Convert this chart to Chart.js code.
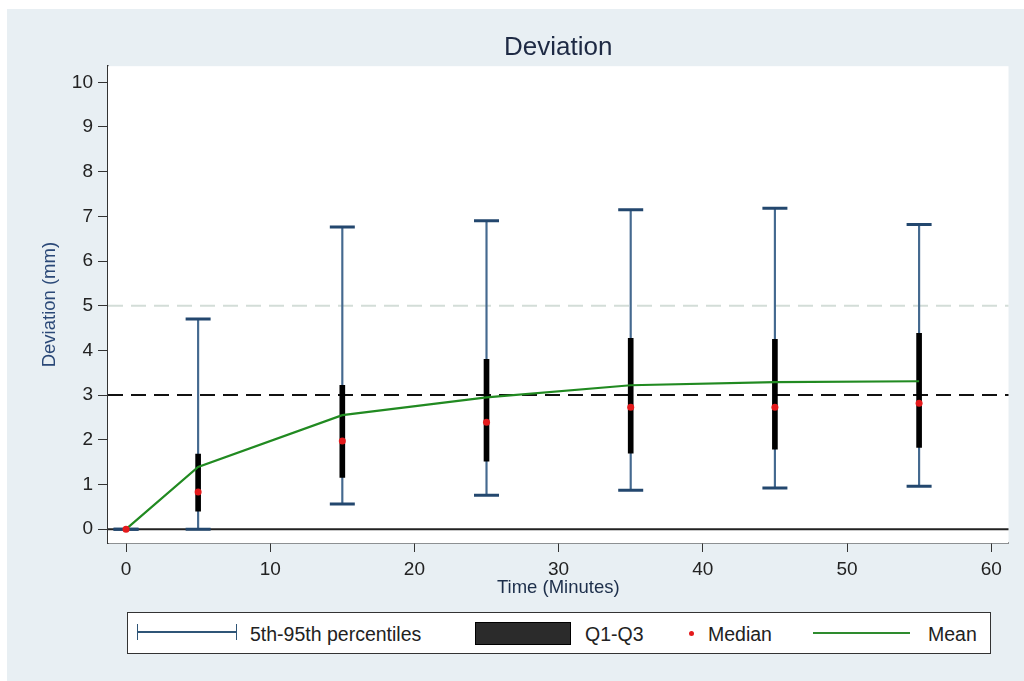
<!DOCTYPE html>
<html>
<head>
<meta charset="utf-8">
<script src="https://cdn.jsdelivr.net/npm/chart.js@4/dist/chart.umd.min.js"></script>
<style>
  body { margin:0; background:#fff; font-family:"Liberation Sans", Arial, sans-serif; }
  #bg { position:absolute; left:7px; top:9px; right:0; bottom:0; background:#e8eff3; }
  #devChart { position:absolute; left:0; top:0; }
  #legend { position:absolute; left:127px; top:612px; width:862px; height:40px; background:#fff;
            border:1.5px solid #333; color:#222; font-size:19.5px; }
  #legend span, #legend i { position:absolute; }
  .txt { top:10px; line-height:22px; }
  .whisk { left:9px; top:11px; width:98px; height:16px; border-left:1.5px solid #2f5577; border-right:1.5px solid #2f5577; }
  .whisk::after { content:""; position:absolute; left:0; right:0; top:7px; height:1.5px; background:#2f5577; }
  .box { left:347px; top:9px; width:94px; height:21px; background:#2b2b2b; border:1px solid #000; }
  .dot { left:561px; top:18px; width:5px; height:5px; border-radius:50%; background:#e41a1c; }
  .mline { left:685px; top:19px; width:97px; height:2px; background:#2e8b2e; }
</style>
</head>
<body>
<div id="bg"></div>
<canvas id="devChart" width="1024" height="600"></canvas>
<div id="legend">
  <i class="whisk"></i><span class="txt" style="left:122px">5th-95th percentiles</span>
  <i class="box"></i><span class="txt" style="left:457px">Q1-Q3</span>
  <i class="dot"></i><span class="txt" style="left:580px">Median</span>
  <i class="mline"></i><span class="txt" style="left:800px">Mean</span>
</div>
<script>
// minutes after start
const times   = [0, 5, 15, 25, 35, 45, 55];
const p5      = [0, 0,    0.56, 0.76, 0.87, 0.92, 0.96];
const p95     = [0, 4.70, 6.76, 6.90, 7.15, 7.18, 6.82];
const q1      = [0, 0.40, 1.16, 1.52, 1.70, 1.79, 1.83];
const q3      = [0, 1.68, 3.22, 3.80, 4.27, 4.25, 4.38];
const medians = [0, 0.83, 1.97, 2.39, 2.73, 2.73, 2.82];
const means   = [0, 1.39, 2.55, 2.95, 3.22, 3.29, 3.31];
const refValues = [5, 3, 0];   // light dashed, black dashed, zero line

Chart.defaults.font.family = '"Liberation Sans", Arial, sans-serif';

const refStyles = {
  5: { color:'#d3ddd8', dash:[15,8], width:2 },
  3: { color:'#111',    dash:[15,8], width:2 },
  0: { color:'#222',    dash:[],     width:2 }
};

const plotBg = {
  id:'plotBg',
  beforeDatasetsDraw(chart){
    const {ctx, chartArea:a, scales:{y}} = chart;
    ctx.save();
    ctx.fillStyle = '#fff';
    ctx.fillRect(a.left, a.top, a.right - a.left, a.bottom - a.top);
    refValues.forEach(v => {
      const st = refStyles[v];
      const py = y.getPixelForValue(v);
      ctx.strokeStyle = st.color; ctx.lineWidth = st.width; ctx.setLineDash(st.dash);
      ctx.beginPath(); ctx.moveTo(a.left, py); ctx.lineTo(a.right, py); ctx.stroke();
    });
    ctx.restore();
  }
};

const pts = arr => times.map((t,i) => ({x:t, y:arr[i]}));
const rng = (lo,hi) => times.map((t,i) => ({x:t, y:[lo[i], hi[i]]}));

const ctx = document.getElementById('devChart').getContext('2d');
new Chart(ctx, {
  data: {
    datasets: [
      { type:'scatter', label:'Median', data:pts(medians), pointRadius:3.5, pointBackgroundColor:'#e41a1c', pointBorderWidth:0, order:0 },
      { type:'line', label:'Mean', data:pts(means), borderColor:'#218a21', borderWidth:2.2, pointRadius:0, tension:0, order:1 },
      { type:'bar', label:'Q1-Q3', data:rng(q1,q3), backgroundColor:'#000', barThickness:5, grouped:false, order:2 },
      { type:'scatter', label:'caps', data:pts(p5).concat(pts(p95)), pointStyle:'line', pointRadius:12.5,
        pointBorderWidth:3, pointBorderColor:'#23476e', order:3 },
      { type:'bar', label:'5th-95th percentiles', data:rng(p5,p95), backgroundColor:'#44698f', barThickness:1.5, grouped:false, order:4 }
    ]
  },
  options: {
    responsive:false,
    animation:false,
    devicePixelRatio:1,
    layout:{ padding:{ left:0, right:14, top:0, bottom:0 } },
    plugins:{
      legend:{ display:false },
      tooltip:{ enabled:false },
      title:{ display:true, fullSize:false, text:'Deviation', color:'#1e2a44', font:{ size:26, weight:'normal' }, padding:{ top:32, bottom:3 } }
    },
    scales:{
      x:{
        type:'linear', min:-1.25, max:61.2, offset:false,
        ticks:{ stepSize:10, includeBounds:false, color:'#222', font:{ size:19 }, padding:6 },
        grid:{ display:true, drawOnChartArea:false, tickLength:9, color:'#333', offset:false },
        border:{ color:'#333', width:1.5 },
        title:{ display:true, text:'Time (Minutes)', color:'#1c2e4a', font:{ size:18.5 }, padding:{ top:0, bottom:1 } },
        afterFit(s){ s.height = 57; }
      },
      y:{
        type:'linear', min:-0.31, max:10.36,
        ticks:{ stepSize:1, includeBounds:false, color:'#222', font:{ size:19 }, padding:5 },
        grid:{ display:true, drawOnChartArea:false, tickLength:10, color:'#333' },
        border:{ color:'#333', width:1.5 },
        title:{ display:true, text:'Deviation (mm)', color:'#2a4877', font:{ size:18.5 }, padding:{ top:39, bottom:0 } },
        afterFit(s){ s.width = 108; }
      }
    }
  },
  plugins:[plotBg]
});
</script>
</body>
</html>
